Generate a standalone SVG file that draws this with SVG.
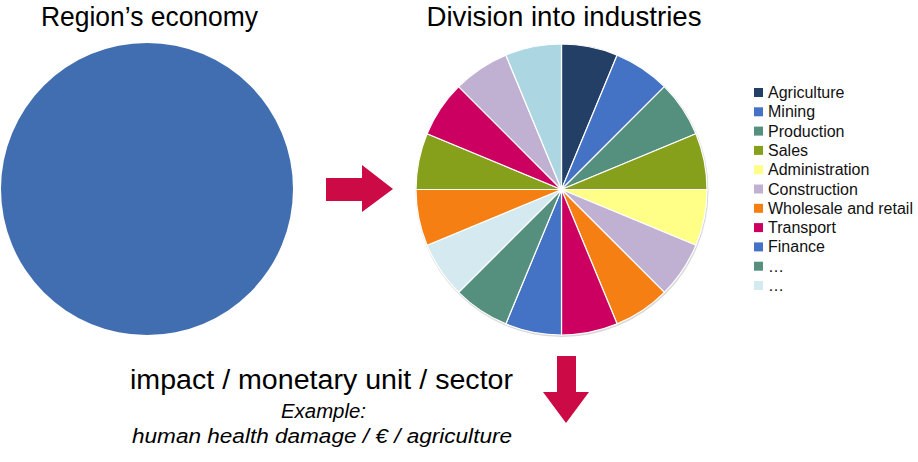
<svg xmlns="http://www.w3.org/2000/svg" width="918" height="462" viewBox="0 0 918 462">
<style>
.t{font-family:"Liberation Sans",Arial,sans-serif;fill:#000}
.lg{font-family:"Liberation Sans",Arial,sans-serif;font-size:16px;fill:#111}
.it{font-style:italic}
.sl{stroke:#fff;stroke-width:1.2;stroke-linejoin:round}
.arr{fill:#CC0A45}
.navy{fill:#243F66}.blue{fill:#4472C4}.teal{fill:#558F7D}.green{fill:#86A01C}
.yel{fill:#FFFF88}.lav{fill:#C0B1D2}.ora{fill:#F57F12}.mag{fill:#CC0060}
.pale{fill:#D4EAF0}.lb{fill:#ABD6E2}
</style>
<rect width="918" height="462" fill="#fff"/>
<g id="economy">
<text class="t" x="149.5" y="26" font-size="28" text-anchor="middle" textLength="217" lengthAdjust="spacingAndGlyphs">Region’s economy</text>
<circle cx="147" cy="189" r="146" fill="#406EB0"/>
</g>
<g id="industries">
<text class="t" x="564" y="26" font-size="28" text-anchor="middle" textLength="275" lengthAdjust="spacingAndGlyphs">Division into industries</text>
<circle cx="562" cy="190.5" r="146.5" fill="#d8d8d8"/>
<g class="sl">
<path class="navy" d="M561.5 189.5L561.5 44A145.5 145.5 0 0 1 617.18 55.075Z"/>
<path class="blue" d="M561.5 189.5L617.18 55.075A145.5 145.5 0 0 1 664.384 86.616Z"/>
<path class="teal" d="M561.5 189.5L664.384 86.616A145.5 145.5 0 0 1 695.925 133.82Z"/>
<path class="green" d="M561.5 189.5L695.925 133.82A145.5 145.5 0 0 1 707 189.5Z"/>
<path class="yel" d="M561.5 189.5L707 189.5A145.5 145.5 0 0 1 695.925 245.18Z"/>
<path class="lav" d="M561.5 189.5L695.925 245.18A145.5 145.5 0 0 1 664.384 292.384Z"/>
<path class="ora" d="M561.5 189.5L664.384 292.384A145.5 145.5 0 0 1 617.18 323.925Z"/>
<path class="mag" d="M561.5 189.5L617.18 323.925A145.5 145.5 0 0 1 561.5 335Z"/>
<path class="blue" d="M561.5 189.5L561.5 335A145.5 145.5 0 0 1 505.82 323.925Z"/>
<path class="teal" d="M561.5 189.5L505.82 323.925A145.5 145.5 0 0 1 458.616 292.384Z"/>
<path class="pale" d="M561.5 189.5L458.616 292.384A145.5 145.5 0 0 1 427.075 245.18Z"/>
<path class="ora" d="M561.5 189.5L427.075 245.18A145.5 145.5 0 0 1 416 189.5Z"/>
<path class="green" d="M561.5 189.5L416 189.5A145.5 145.5 0 0 1 427.075 133.82Z"/>
<path class="mag" d="M561.5 189.5L427.075 133.82A145.5 145.5 0 0 1 458.616 86.616Z"/>
<path class="lav" d="M561.5 189.5L458.616 86.616A145.5 145.5 0 0 1 505.82 55.075Z"/>
<path class="lb" d="M561.5 189.5L505.82 55.075A145.5 145.5 0 0 1 561.5 44Z"/>
</g>
</g>
<g id="legend">
<rect class="navy" x="754" y="88" width="9" height="9"/><text class="lg" x="768" y="98">Agriculture</text>
<rect class="blue" x="754" y="107.3" width="9" height="9"/><text class="lg" x="768" y="117.3">Mining</text>
<rect class="teal" x="754" y="126.6" width="9" height="9"/><text class="lg" x="768" y="136.6">Production</text>
<rect class="green" x="754" y="145.9" width="9" height="9"/><text class="lg" x="768" y="155.9">Sales</text>
<rect class="yel" x="754" y="165.2" width="9" height="9"/><text class="lg" x="768" y="175.2">Administration</text>
<rect class="lav" x="754" y="184.5" width="9" height="9"/><text class="lg" x="768" y="194.5">Construction</text>
<rect class="ora" x="754" y="203.8" width="9" height="9"/><text class="lg" x="768" y="213.8">Wholesale and retail</text>
<rect class="mag" x="754" y="223.1" width="9" height="9"/><text class="lg" x="768" y="233.1">Transport</text>
<rect class="blue" x="754" y="242.4" width="9" height="9"/><text class="lg" x="768" y="252.4">Finance</text>
<rect class="teal" x="754" y="261.7" width="9" height="9"/><text class="lg" x="768" y="271.7">…</text>
<rect class="pale" x="754" y="281" width="9" height="9"/><text class="lg" x="768" y="291">…</text>
</g>
<g id="result">
<text class="t" x="321.5" y="389" font-size="27" text-anchor="middle" textLength="383" lengthAdjust="spacingAndGlyphs">impact / monetary unit / sector</text>
<text class="t it" x="323.5" y="418" font-size="20" text-anchor="middle" textLength="85" lengthAdjust="spacingAndGlyphs">Example:</text>
<text class="t it" x="322" y="443" font-size="20" text-anchor="middle" textLength="380" lengthAdjust="spacingAndGlyphs">human health damage / € / agriculture</text>
</g>
<g id="connectors">
<polygon class="arr" points="326,178 362,178 362,165 393,189 362,212 362,201 326,201"/>
<polygon class="arr" points="557,356 576,356 576,392 589,392 566,423 543,392 557,392"/>
</g>
</svg>
